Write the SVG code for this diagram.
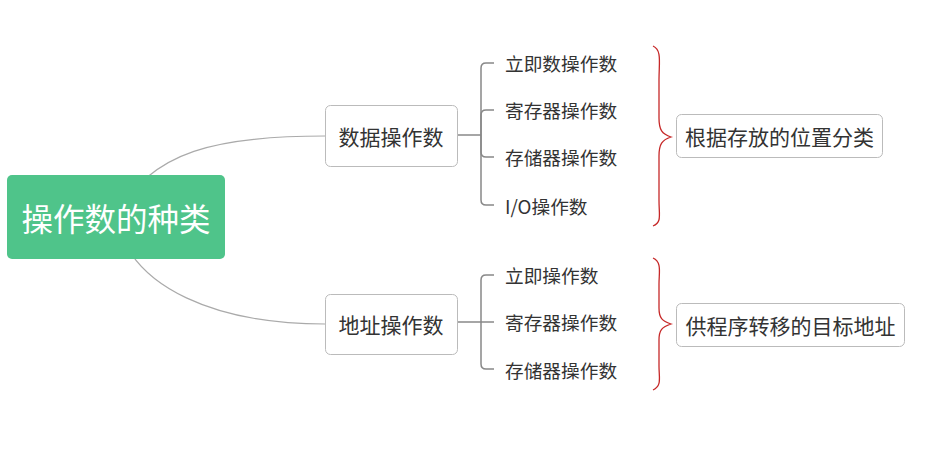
<svg xmlns="http://www.w3.org/2000/svg" width="944" height="458" viewBox="0 0 944 458">
<style>
text{font-family:"Microsoft YaHei","Noto Sans CJK SC","Liberation Sans",sans-serif;fill:#333}
.box{fill:#fff;stroke:#bbb;stroke-width:1}
.curve{fill:none;stroke:#aaa;stroke-width:1.2}
.conn{fill:none;stroke:#888;stroke-width:1.5}
.brace{fill:none;stroke:#c62828;stroke-width:1.3}
.t21{font-size:21px}
.t18{font-size:18.7px}
</style>
<rect width="944" height="458" fill="#fff"/>
<g id="connectors">
<path class="curve" d="M116,217 C150,150 220,136 325,136"/>
<path class="curve" d="M116,217 C130,290 220,324 325,324"/>
<path class="conn" d="M457,135 L481,135"/>
<path class="conn" d="M481,135 L481,68 Q481,63 486,63 L494,63"/>
<path class="conn" d="M481,135 L481,115 Q481,110 486,110 L494,110"/>
<path class="conn" d="M481,135 L481,152 Q481,157 486,157 L494,157"/>
<path class="conn" d="M481,135 L481,200 Q481,205 486,205 L494,205"/>
<path class="conn" d="M457,322 L494,322"/>
<path class="conn" d="M481,322 L481,280 Q481,275 486,275 L494,275"/>
<path class="conn" d="M481,322 L481,364 Q481,369 486,369 L494,369"/>
<path class="brace" d="M653,46 C662,50 659,62 659,80 L659,118 C659,130 662,134 671,137 C662,140 659,144 659,156 L659,200 C659,216 662,222 653,226"/>
<path class="brace" d="M653,258 C662,262 659,272 659,284 L659,308 C659,318 662,321 671,324 C662,327 659,330 659,340 L659,366 C659,378 662,386 653,390"/>
</g>
<g id="root">
<rect x="7" y="175" width="218" height="84" rx="5" fill="#4fc48a"/>
<text x="116" y="217" font-size="31.5" text-anchor="middle" dominant-baseline="central" style="fill:#fff">操作数的种类</text>
</g>
<g id="data">
<rect class="box" x="325.5" y="105.5" width="132" height="61" rx="5"/>
<text class="t21" x="391" y="136" text-anchor="middle" dominant-baseline="central">数据操作数</text>
</g>
<g id="addr">
<rect class="box" x="325.5" y="294.5" width="132" height="60" rx="5"/>
<text class="t21" x="391" y="324" text-anchor="middle" dominant-baseline="central">地址操作数</text>
</g>
<g id="d1"><text class="t18" x="505" y="62" dominant-baseline="central">立即数操作数</text></g>
<g id="d2"><text class="t18" x="505" y="109" dominant-baseline="central">寄存器操作数</text></g>
<g id="d3"><text class="t18" x="505" y="156" dominant-baseline="central">存储器操作数</text></g>
<g id="d4"><text class="t18" x="505" y="205" dominant-baseline="central">I/O操作数</text></g>
<g id="a1"><text class="t18" x="505" y="274" dominant-baseline="central">立即操作数</text></g>
<g id="a2"><text class="t18" x="505" y="321" dominant-baseline="central">寄存器操作数</text></g>
<g id="a3"><text class="t18" x="505" y="369" dominant-baseline="central">存储器操作数</text></g>
<g id="sum1">
<rect class="box" x="676.5" y="114.5" width="206" height="43" rx="5"/>
<text class="t21" x="779.5" y="136" text-anchor="middle" dominant-baseline="central">根据存放的位置分类</text>
</g>
<g id="sum2">
<rect class="box" x="676.5" y="303.5" width="228" height="43" rx="5"/>
<text class="t21" x="790.5" y="325" text-anchor="middle" dominant-baseline="central">供程序转移的目标地址</text>
</g>
</svg>
